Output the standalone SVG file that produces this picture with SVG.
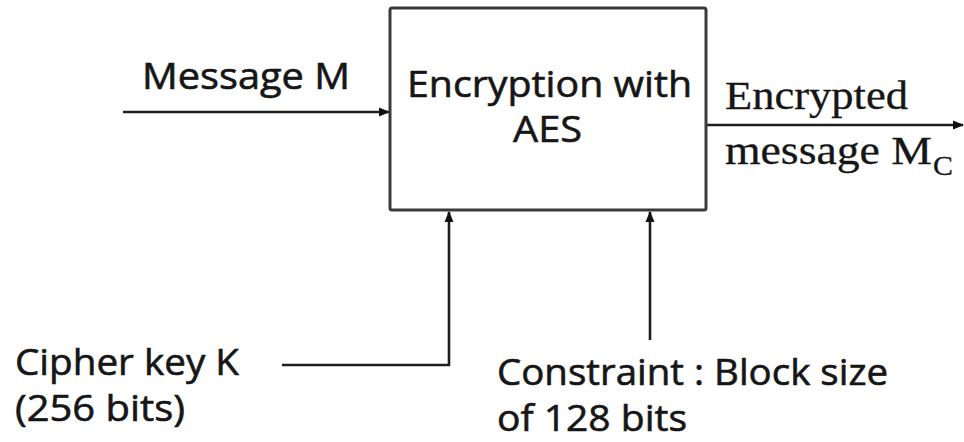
<svg xmlns="http://www.w3.org/2000/svg" width="964" height="442" viewBox="0 0 964 442">
  <style>
    .sans { font-family: "Open Sans", "Noto Sans", "DejaVu Sans", sans-serif; font-size: 37px; fill: #161616; stroke: #161616; stroke-width: 0.6; }
    .serif { font-family: "Liberation Serif", "DejaVu Serif", serif; font-size: 40px; fill: #161616; stroke: #161616; stroke-width: 0.3; }
    .sub { font-family: "Liberation Serif", "DejaVu Serif", serif; font-size: 27px; fill: #161616; stroke: #161616; stroke-width: 0.3; }
    .wire { fill: none; stroke: #1e1e1e; stroke-width: 2.6; }
    .box { fill: #ffffff; stroke: #3a3a3a; stroke-width: 3; }
  </style>
  <defs>
    <marker id="arrow" markerUnits="userSpaceOnUse" markerWidth="11" markerHeight="10" refX="10" refY="5" orient="auto">
      <path d="M0,0.5 L11,5 L0,9.5 Z" fill="#111111"/>
    </marker>
  </defs>
  <rect width="964" height="442" fill="#ffffff"/>

  <g id="connectors">
    <line class="wire" x1="123" y1="112" x2="389" y2="112" marker-end="url(#arrow)"/>
    <line class="wire" x1="706" y1="125" x2="963" y2="125" marker-end="url(#arrow)"/>
    <path class="wire" d="M282,365 H449 V212" marker-end="url(#arrow)"/>
    <line class="wire" x1="650" y1="340" x2="650" y2="212" marker-end="url(#arrow)"/>
  </g>

  <g id="encryption">
    <rect class="box" x="390" y="8" width="316" height="202" rx="2"/>
    <text class="sans" x="407" y="97" textLength="285" lengthAdjust="spacingAndGlyphs">Encryption with</text>
    <text class="sans" x="513" y="142" textLength="69" lengthAdjust="spacingAndGlyphs">AES</text>
  </g>

  <g id="message">
    <text class="sans" x="142" y="89" textLength="208" lengthAdjust="spacingAndGlyphs">Message M</text>
  </g>

  <g id="encrypted-message">
    <text class="serif" x="725" y="109" textLength="183" lengthAdjust="spacingAndGlyphs">Encrypted</text>
    <text class="serif" x="725" y="164" textLength="207" lengthAdjust="spacingAndGlyphs">message M</text>
    <text class="sub" x="933" y="175" textLength="20" lengthAdjust="spacingAndGlyphs">C</text>
  </g>

  <g id="cipher-key">
    <text class="sans" x="15" y="375" textLength="224" lengthAdjust="spacingAndGlyphs">Cipher key K</text>
    <text class="sans" x="15" y="421" textLength="170" lengthAdjust="spacingAndGlyphs">(256 bits)</text>
  </g>

  <g id="constraint">
    <text class="sans" x="497" y="385" textLength="391" lengthAdjust="spacingAndGlyphs">Constraint : Block size</text>
    <text class="sans" x="497" y="431" textLength="190" lengthAdjust="spacingAndGlyphs">of 128 bits</text>
  </g>
</svg>
